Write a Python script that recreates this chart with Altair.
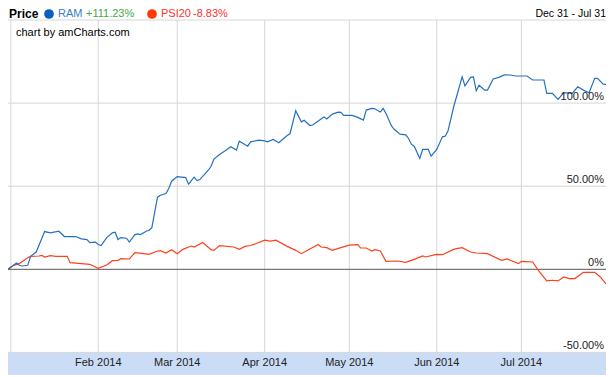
import altair as alt
import pandas as pd

# ---------------- data ----------------
ram_dates = ["2013-12-31","2014-01-03","2014-01-04","2014-01-05","2014-01-07","2014-01-08","2014-01-10",
    "2014-01-13","2014-01-15","2014-01-18","2014-01-20","2014-01-24","2014-01-26","2014-01-28","2014-01-29",
    "2014-01-31","2014-02-01","2014-02-02","2014-02-04","2014-02-06","2014-02-07","2014-02-08","2014-02-09",
    "2014-02-11","2014-02-12","2014-02-14","2014-02-15","2014-02-16","2014-02-18","2014-02-19","2014-02-20",
    "2014-02-22","2014-02-23","2014-02-25","2014-02-26","2014-02-27","2014-03-01","2014-03-04","2014-03-05",
    "2014-03-07","2014-03-08","2014-03-09","2014-03-12","2014-03-13","2014-03-14","2014-03-16","2014-03-18",
    "2014-03-20","2014-03-22","2014-03-23","2014-03-26","2014-03-27","2014-03-30","2014-04-01","2014-04-02",
    "2014-04-04","2014-04-06","2014-04-09","2014-04-10","2014-04-12","2014-04-14","2014-04-15","2014-04-17",
    "2014-04-18","2014-04-22","2014-04-23","2014-04-25","2014-04-27","2014-04-28","2014-04-29","2014-05-02",
    "2014-05-04","2014-05-06","2014-05-07","2014-05-09","2014-05-10","2014-05-12","2014-05-13","2014-05-14",
    "2014-05-16","2014-05-17","2014-05-19","2014-05-21","2014-05-22","2014-05-23","2014-05-24","2014-05-26",
    "2014-05-27","2014-05-29","2014-05-30","2014-06-01","2014-06-03","2014-06-04","2014-06-05","2014-06-07",
    "2014-06-10","2014-06-11","2014-06-13","2014-06-14","2014-06-15","2014-06-16","2014-06-18","2014-06-19",
    "2014-06-21","2014-06-23","2014-06-25","2014-06-27","2014-06-29","2014-07-03","2014-07-05","2014-07-09",
    "2014-07-10","2014-07-12","2014-07-14","2014-07-16","2014-07-17","2014-07-19","2014-07-21","2014-07-23",
    "2014-07-25","2014-07-27","2014-07-28","2014-07-30","2014-07-31"]
ram_values = [0, 3.8, 2.4, 2.0, 2.4, 7.8, 10.4,
    22.7, 21.9, 22.9, 19.7, 19.7, 18.3, 17.9, 16.1,
    16.4, 14.9, 14.3, 19.1, 21.9, 22.3, 17.9, 19.1,
    18.7, 16.4, 20.9, 21.3, 20.9, 22.9, 23.5, 25.1,
    43.4, 44.6, 45.6, 48.6, 53.0, 55.8, 55.2, 51.2,
    55.4, 53.4, 54.0, 59.6, 62.0, 66.3, 69.1, 71.3,
    73.7, 71.7, 77.1, 74.1, 76.7, 77.7, 77.3, 76.7,
    78.1, 76.1, 80.5, 81.7, 95.4, 88.7, 89.7, 86.5,
    86.8, 91.7, 90.4, 93.4, 94.6, 94.4, 92.6, 92.6,
    91.4, 89.8, 95.8, 96.8, 96.6, 94.6, 96.8, 93.8,
    86.1, 84.1, 81.3, 80.9, 78.7, 75.3, 74.1, 66.7,
    72.1, 72.1, 68.1, 72.1, 79.7, 80.1, 83.3, 97.8,
    115.8, 110.4, 115.5, 115.8, 107.4, 110.7, 107.8, 107.8,
    114.5, 115.5, 117.0, 116.9, 116.3, 116.3, 113.9, 113.9,
    105.8, 105.8, 102.2, 106.2, 106.2, 105.8, 109.8, 107.8,
    106.2, 114.9, 114.9, 111.4, 111.23]

psi_dates = ["2013-12-31","2014-01-02","2014-01-04","2014-01-07","2014-01-08","2014-01-11","2014-01-12",
    "2014-01-13","2014-01-15","2014-01-17","2014-01-21","2014-01-22","2014-01-26","2014-01-29","2014-02-01",
    "2014-02-04","2014-02-06","2014-02-08","2014-02-09","2014-02-12","2014-02-14","2014-02-17","2014-02-19",
    "2014-02-22","2014-02-23","2014-02-25","2014-02-27","2014-03-01","2014-03-03","2014-03-06","2014-03-07",
    "2014-03-10","2014-03-13","2014-03-14","2014-03-16","2014-03-21","2014-03-23","2014-03-25","2014-03-27",
    "2014-03-29","2014-04-01","2014-04-03","2014-04-05","2014-04-09","2014-04-12","2014-04-14","2014-04-17",
    "2014-04-20","2014-04-21","2014-04-23","2014-04-25","2014-04-28","2014-05-01","2014-05-04","2014-05-05",
    "2014-05-07","2014-05-09","2014-05-10","2014-05-12","2014-05-14","2014-05-18","2014-05-21","2014-05-24",
    "2014-05-27","2014-05-28","2014-06-01","2014-06-03","2014-06-07","2014-06-08","2014-06-10","2014-06-13",
    "2014-06-15","2014-06-19","2014-06-24","2014-06-26","2014-06-30","2014-07-01","2014-07-05","2014-07-07",
    "2014-07-10","2014-07-12","2014-07-14","2014-07-16","2014-07-18","2014-07-20","2014-07-23","2014-07-27",
    "2014-07-29","2014-07-31"]
psi_values = [0, 2.4, 3.4, 7.0, 7.8, 8.0, 8.4,
    7.4, 8.2, 7.8, 7.8, 4.0, 3.4, 3.0, 0.6,
    2.6, 5.2, 5.4, 6.4, 6.2, 10.0, 9.4, 9.0,
    11.0, 11.2, 9.8, 11.8, 9.4, 12.0, 14.0, 13.4,
    16.1, 11.8, 11.4, 14.3, 13.4, 12.0, 13.8, 14.3,
    15.5, 17.5, 17.0, 17.5, 13.8, 11.4, 9.4, 12.2,
    14.9, 13.4, 13.0, 11.4, 13.0, 14.5, 14.9, 12.8,
    12.8, 11.0, 11.8, 11.0, 4.8, 5.0, 4.2, 6.0,
    8.0, 7.4, 9.0, 8.8, 12.0, 12.4, 13.0, 10.4,
    9.8, 9.4, 5.4, 6.2, 3.4, 4.8, 4.4, -0.6,
    -7.0, -6.6, -7.0, -4.6, -5.6, -5.6, -1.8, -1.8,
    -4.6, -8.83]

month_dates = ["2014-01-01","2014-02-01","2014-03-01","2014-04-01","2014-05-01","2014-06-01","2014-07-01"]
month_labels = ["", "Feb 2014", "Mar 2014", "Apr 2014", "May 2014", "Jun 2014", "Jul 2014"]

y_ticks = [100, 50, 0, -50]
y_tick_labels = ["100.00%", "50.00%", "0%", "-50.00%"]

series_names = ["RAM", "PSI20"]
series_changes = ["+111.23%", "-8.83%"]
period_label = "Dec 31 - Jul 31"

BLUE = "#2470c0"
RED = "#ff3f1a"
FONT = "Liberation Sans"

df_ram = pd.DataFrame({"date": ram_dates, "value": ram_values})
df_psi = pd.DataFrame({"date": psi_dates, "value": psi_values})
df_months = pd.DataFrame({"date": month_dates, "label": month_labels})
df_y = pd.DataFrame({"v": y_ticks, "label": y_tick_labels})
one = pd.DataFrame({"k": [0]})

xscale = alt.Scale(type="utc",
                   domain=[alt.DateTime(year=2013, month=12, date=31, utc=True),
                           alt.DateTime(year=2014, month=7, date=31, utc=True)])
yscale = alt.Scale(domain=[-63.6, 150], nice=False, zero=False)

X = alt.X("date:T", scale=xscale, axis=None)

# bottom band (scrollbar area)
band = alt.Chart(one).mark_rect(color="#cadcf6").encode(
    x=alt.value(0), x2=alt.value(598),
    y=alt.Y(datum=-50, type="quantitative", scale=yscale, axis=None), y2=alt.datum(-63.6))

# vertical grid lines
vgrid = alt.Chart(df_months).mark_rule(color="#d6d6d6", strokeWidth=1).encode(
    x=X, y=alt.Y(datum=150, type="quantitative", scale=yscale, axis=None), y2=alt.datum(-50))

left_edge = alt.Chart(one).mark_rule(color="#c8c8c8", strokeWidth=1).encode(
    x=alt.value(-2), y=alt.value(0), y2=alt.value(355))

# horizontal grid lines
hgrid = alt.Chart(pd.DataFrame({"v": [150, 100, 50, -50]})).mark_rule(color="#d6d6d6", strokeWidth=1).encode(
    y=alt.Y("v:Q", scale=yscale, axis=None))
zero = alt.Chart(pd.DataFrame({"v": [0]})).mark_rule(color="#555555", strokeWidth=1).encode(
    y=alt.Y("v:Q", scale=yscale, axis=None))

line_ram = alt.Chart(df_ram).mark_line(color=BLUE, strokeWidth=1.2).encode(
    x=X, y=alt.Y("value:Q", scale=yscale, axis=None))
line_psi = alt.Chart(df_psi).mark_line(color=RED, strokeWidth=1.2).encode(
    x=X, y=alt.Y("value:Q", scale=yscale, axis=None))

# y labels inside plot at the right
ylabels = alt.Chart(df_y).mark_text(align="right", baseline="alphabetic", dy=-3,
                                    font=FONT, fontSize=11, color="#222222").encode(
    x=alt.value(596), y=alt.Y("v:Q", scale=yscale, axis=None), text="label:N")

# x labels in band
xlabels = alt.Chart(df_months).mark_text(align="center", baseline="middle",
                                         font=FONT, fontSize=11, color="#222222").encode(
    x=X, y=alt.Y(datum=-56.6, type="quantitative", scale=yscale, axis=None), text="label:N")

# header
def txt(s, x, color, bold=False, align="left", size=11, y=-6):
    return alt.Chart(one).mark_text(align=align, baseline="middle", font=FONT, fontSize=size,
                                    fontWeight="bold" if bold else "normal", color=color).encode(
        x=alt.value(x), y=alt.value(y), text=alt.value(s))

def dot(x, color):
    return alt.Chart(one).mark_circle(size=95, opacity=1, color=color).encode(
        x=alt.value(x), y=alt.value(-6))

header = [
    txt("Price", 1, "#000000", bold=True, size=12),
    dot(41, "#0a5fc0"),
    txt(series_names[0], 50, "#3b7cc6"),
    txt(series_changes[0], 78, "#45a845"),
    dot(144, "#ff3a00"),
    txt(series_names[1], 153, "#ff3030"),
    txt(series_changes[1], 185, "#ff3030"),
    txt(period_label, 598, "#000000", align="right", size=10.5),
    txt("chart by amCharts.com", 8, "#000000", y=13),
]

chart = alt.layer(band, vgrid, left_edge, hgrid, zero, line_psi, line_ram, ylabels, xlabels, *header).properties(
    width=598, height=355,
    padding={"left": 0, "top": 12, "right": 0, "bottom": 0},
    autosize=alt.AutoSizeParams(type="none"),
).configure_view(strokeWidth=0)

chart.save("out.html", embed_options={"renderer": "svg", "actions": False})
